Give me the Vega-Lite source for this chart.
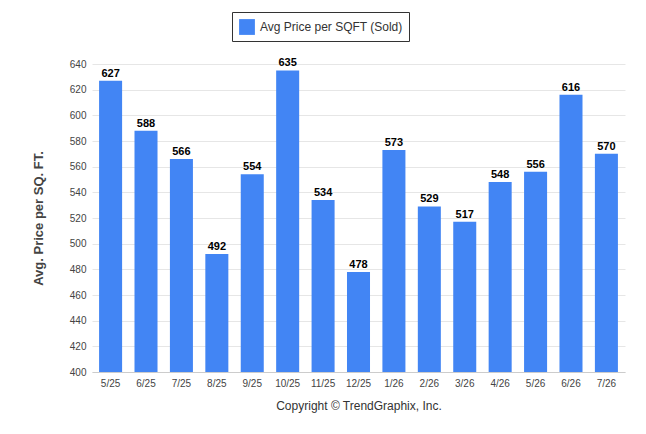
{
"$schema":"https://vega.github.io/schema/vega-lite/v6.json",
"width":533,"height":308,
"autosize":{"type":"none"},
"padding":{"left":92,"top":64,"right":21,"bottom":62},
"background":"white",
"data":{"values":[
{"m":"5/25","v":627},{"m":"6/25","v":588},{"m":"7/25","v":566},{"m":"8/25","v":492},{"m":"9/25","v":554},{"m":"10/25","v":635},{"m":"11/25","v":534},{"m":"12/25","v":478},{"m":"1/26","v":573},{"m":"2/26","v":529},{"m":"3/26","v":517},{"m":"4/26","v":548},{"m":"5/26","v":556},{"m":"6/26","v":616},{"m":"7/26","v":570}]},
"config":{"view":{"stroke":null},"font":"Liberation Sans"},
"encoding":{
"x":{"field":"m","type":"nominal","sort":null,"scale":{"paddingInner":0.35,"paddingOuter":0.2},
"axis":{"title":"Copyright © TrendGraphix, Inc.","titleFontWeight":"normal","titleFontSize":12,"titleColor":"#333","titlePadding":12,"labelAngle":0,"labelFontSize":10,"labelColor":"#444","domainColor":"#ccc","ticks":false,"labelPadding":6}},
"y":{"field":"v","type":"quantitative","scale":{"domain":[400,640],"zero":false,"clamp":true},
"axis":{"title":"Avg. Price per SQ. FT.","titleFontSize":13,"titleFontWeight":"bold","titleColor":"#444","titlePadding":24,"values":[400,420,440,460,480,500,520,540,560,580,600,620,640],"labelFontSize":10,"labelColor":"#444","gridColor":"#e6e6e6","domain":false,"ticks":false,"labelPadding":6}}
},
"layer":[
{"mark":{"type":"bar","color":"#4285F4"},
 "encoding":{"color":{"datum":"Avg Price per SQFT (Sold)","scale":{"range":["#4285F4"]},
  "legend":{"title":null,"orient":"none","legendX":140,"legendY":-52,"strokeColor":"#333","padding":6,"labelFontSize":12,"labelColor":"#333","symbolType":"square","symbolSize":250,"labelLimit":300}}}},
{"mark":{"type":"text","dy":-7,"fontWeight":"bold","fontSize":11,"color":"#000"},
 "encoding":{"text":{"field":"v"}}}
]
}
